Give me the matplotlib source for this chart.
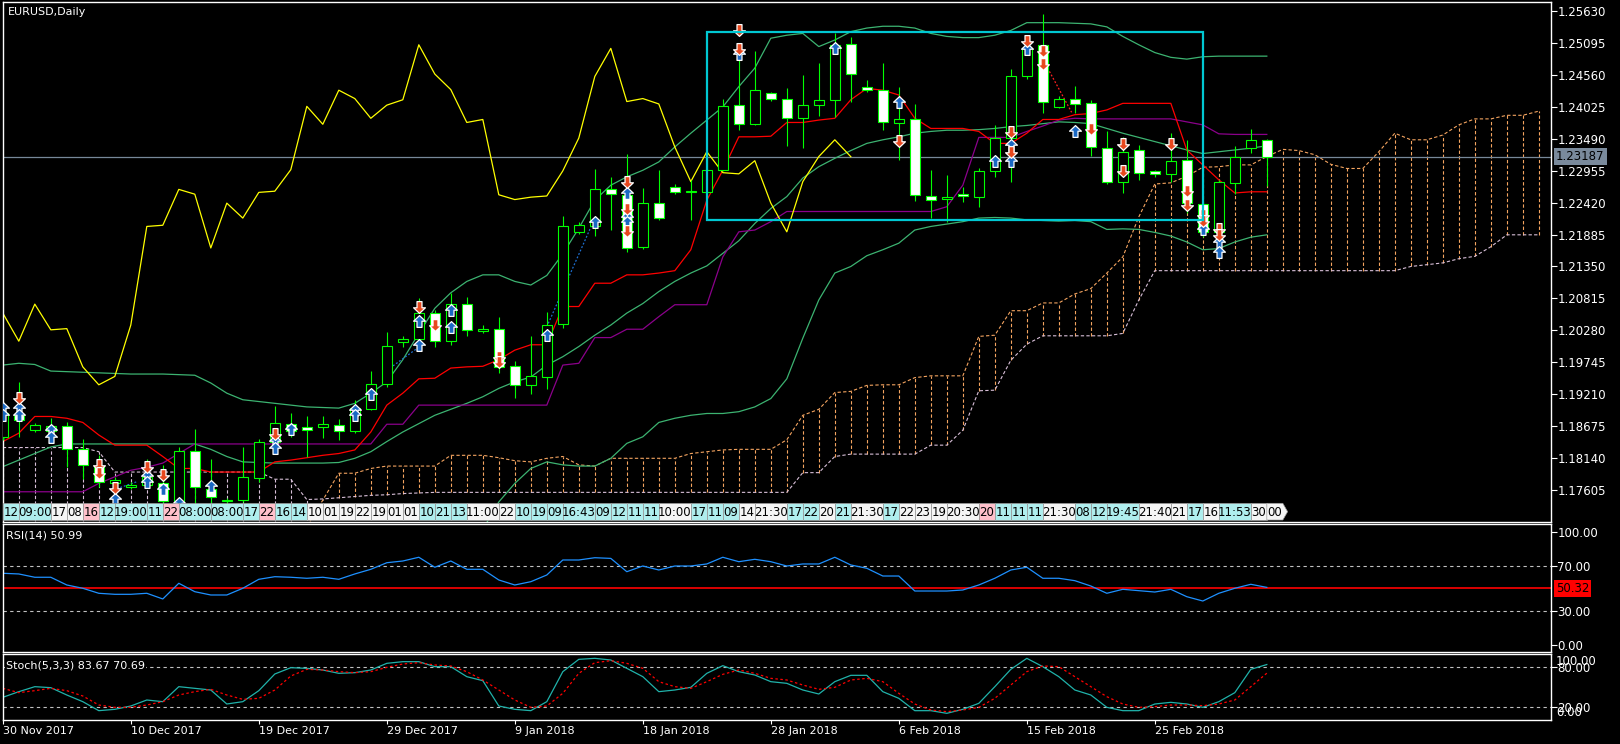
import matplotlib
matplotlib.use("Agg")
import matplotlib.pyplot as plt
import matplotlib.transforms as mtransforms
from matplotlib.patches import Rectangle, Polygon
from matplotlib.path import Path

W, H = 1620, 744

# daily EURUSD bars, index 0 = 30 Nov 2017
opens = [1.1850, 1.1886, 1.1861, 1.1860, 1.1868, 1.1829, 1.1800, 1.1773, 1.1766, 1.1769,
         1.1772, 1.1742, 1.1826, 1.1762, 1.1742, 1.1745, 1.1781, 1.1842, 1.1871, 1.1866,
         1.1867, 1.1870, 1.1859, 1.1896, 1.1938, 1.2009, 1.2013, 1.2057, 1.2011, 1.2072,
         1.2027, 1.2031, 1.1968, 1.1936, 1.1950, 1.2039, 1.2193, 1.2202, 1.2265, 1.2255,
         1.2168, 1.2241, 1.2268, 1.2259, 1.2260, 1.2296, 1.2405, 1.2373, 1.2425, 1.2416,
         1.2383, 1.2405, 1.2414, 1.2507, 1.2435, 1.2431, 1.2375, 1.2381, 1.2253, 1.2248,
         1.2256, 1.2252, 1.2294, 1.2350, 1.2453, 1.2505, 1.2402, 1.2415, 1.2408, 1.2334,
         1.2277, 1.2330, 1.2294, 1.2290, 1.2313, 1.2240, 1.2192, 1.2274, 1.2334, 1.2347]
highs = [1.1903, 1.1942, 1.1873, 1.1881, 1.1875, 1.1847, 1.1820, 1.1782, 1.1774, 1.1812,
         1.1803, 1.1833, 1.1863, 1.1812, 1.1748, 1.1833, 1.1847, 1.1902, 1.1889, 1.1885,
         1.1885, 1.1879, 1.1912, 1.1960, 1.2026, 1.2019, 1.2082, 1.2062, 1.2090, 1.2084,
         1.2037, 1.2051, 1.1977, 1.2019, 1.2059, 1.2219, 1.2210, 1.2298, 1.2285, 1.2324,
         1.2266, 1.2296, 1.2273, 1.2280, 1.2324, 1.2415, 1.2480, 1.2496, 1.2427, 1.2433,
         1.2455, 1.2476, 1.2525, 1.2519, 1.2447, 1.2475, 1.2435, 1.2407, 1.2296, 1.2288,
         1.2268, 1.2300, 1.2372, 1.2465, 1.2521, 1.2557, 1.2420, 1.2437, 1.2414, 1.2361,
         1.2352, 1.2338, 1.2296, 1.2358, 1.2347, 1.2245, 1.2280, 1.2337, 1.2365, 1.2348]
lows = [1.1845, 1.1850, 1.1858, 1.1839, 1.1800, 1.1780, 1.1766, 1.1761, 1.1762, 1.1764,
        1.1736, 1.1731, 1.1739, 1.1739, 1.1740, 1.1741, 1.1774, 1.1826, 1.1850, 1.1817,
        1.1848, 1.1845, 1.1857, 1.1895, 1.1934, 1.2001, 1.2001, 1.2001, 1.2004, 1.2019,
        1.2024, 1.1956, 1.1915, 1.1922, 1.1930, 1.2032, 1.2190, 1.2186, 1.2196, 1.2160,
        1.2165, 1.2213, 1.2256, 1.2213, 1.2258, 1.2294, 1.2364, 1.2371, 1.2412, 1.2337,
        1.2334, 1.2387, 1.2385, 1.2411, 1.2427, 1.2363, 1.2314, 1.2245, 1.2216, 1.2210,
        1.2243, 1.2235, 1.2284, 1.2277, 1.2448, 1.2392, 1.2401, 1.2392, 1.2320, 1.2273,
        1.2258, 1.2280, 1.2285, 1.2277, 1.2224, 1.2185, 1.2155, 1.2257, 1.2325, 1.2270]
closes = [1.1890, 1.1878, 1.1870, 1.1868, 1.1829, 1.1802, 1.1775, 1.1778, 1.1770, 1.1783,
          1.1742, 1.1826, 1.1766, 1.1749, 1.1745, 1.1782, 1.1841, 1.1873, 1.1859, 1.1861,
          1.1872, 1.1859, 1.1899, 1.1938, 1.2002, 1.2013, 1.2057, 1.2010, 1.2072, 1.2029,
          1.2031, 1.1967, 1.1937, 1.1951, 1.2037, 1.2202, 1.2204, 1.2264, 1.2256, 1.2166,
          1.2241, 1.2216, 1.2259, 1.2261, 1.2297, 1.2403, 1.2373, 1.2430, 1.2416, 1.2383,
          1.2405, 1.2414, 1.2506, 1.2457, 1.2431, 1.2376, 1.2381, 1.2255, 1.2247, 1.2251,
          1.2253, 1.2295, 1.2350, 1.2453, 1.2500, 1.2411, 1.2416, 1.2407, 1.2335, 1.2277,
          1.2327, 1.2292, 1.2290, 1.2312, 1.2241, 1.2193, 1.2277, 1.2319, 1.2347, 1.23187]

# Bollinger bands (lower band only visible from bar 30 on)
bb_upper = [1.1970, 1.1973, 1.1971, 1.1960, 1.1959, 1.1958, 1.1957, 1.1956, 1.1955, 1.1955,
            1.1955, 1.1954, 1.1953, 1.1940, 1.1923, 1.1912, 1.1909, 1.1906, 1.1903, 1.1900,
            1.1899, 1.1898, 1.1906, 1.1923, 1.1942, 1.1979, 1.2023, 1.2065, 1.2091, 1.2110,
            1.2121, 1.2121, 1.2110, 1.2104, 1.2120, 1.2156, 1.2199, 1.2246, 1.2271, 1.2285,
            1.2296, 1.2310, 1.2335, 1.2358, 1.2380, 1.2402, 1.2436, 1.2467, 1.2517, 1.2522,
            1.2525, 1.2503, 1.2514, 1.2528, 1.2534, 1.2537, 1.2537, 1.2534, 1.2525, 1.2520,
            1.2518, 1.2518, 1.2522, 1.2530, 1.2543, 1.2543, 1.2543, 1.2542, 1.2541, 1.2536,
            1.2520, 1.2506, 1.2493, 1.2485, 1.2482, 1.2486, 1.2487, 1.2487, 1.2487, 1.2487]
bb_middle = [1.1800, 1.1811, 1.1822, 1.1833, 1.1838, 1.1838, 1.1838, 1.1838, 1.1838, 1.1838,
             1.1838, 1.1838, 1.1838, 1.1829, 1.1817, 1.1808, 1.1807, 1.1806, 1.1806, 1.1806,
             1.1806, 1.1807, 1.1814, 1.1825, 1.1842, 1.1858, 1.1872, 1.1886, 1.1896, 1.1906,
             1.1917, 1.1931, 1.1942, 1.1950, 1.1970, 1.1984, 1.2001, 1.2020, 1.2037, 1.2057,
             1.2073, 1.2093, 1.2110, 1.2124, 1.2136, 1.2157, 1.2178, 1.2207, 1.2232, 1.2252,
             1.2283, 1.2302, 1.2316, 1.2329, 1.2341, 1.2347, 1.2352, 1.2358, 1.2361, 1.2363,
             1.2363, 1.2364, 1.2366, 1.2369, 1.2371, 1.2374, 1.2377, 1.2376, 1.2374, 1.2366,
             1.2358, 1.2351, 1.2344, 1.2337, 1.2330, 1.2324, 1.2327, 1.2330, 1.2333, 1.2337]
bb_lower_start = 30
bb_lower = [1.1695, 1.1741, 1.1772, 1.1797, 1.1808, 1.1803, 1.1801, 1.1801, 1.1814, 1.1839,
            1.1850, 1.1874, 1.1881, 1.1886, 1.1889, 1.1889, 1.1892, 1.1900, 1.1914, 1.1947,
            1.2015, 1.2079, 1.2124, 1.2135, 1.2153, 1.2163, 1.2174, 1.2196, 1.2202, 1.2206,
            1.2210, 1.2216, 1.2217, 1.2216, 1.2213, 1.2212, 1.2211, 1.2212, 1.2210, 1.2197,
            1.2198, 1.2197, 1.2192, 1.2186, 1.2176, 1.2163, 1.2165, 1.2176, 1.2184, 1.2188]

# Ichimoku lines
tenkan = [1.1842, 1.1856, 1.1884, 1.1884, 1.1881, 1.1874, 1.1853, 1.1836, 1.1836, 1.1836,
          1.1817, 1.1797, 1.1797, 1.1791, 1.1791, 1.1791, 1.1791, 1.1808, 1.1811, 1.1815,
          1.1819, 1.1822, 1.1828, 1.1858, 1.1903, 1.1923, 1.1947, 1.1948, 1.1965, 1.1967,
          1.1968, 1.1979, 1.1995, 1.2004, 1.2004, 1.2068, 1.2068, 1.2107, 1.2107, 1.2121,
          1.2121, 1.2124, 1.2128, 1.2163, 1.2246, 1.2296, 1.2352, 1.2352, 1.2353, 1.2376,
          1.2376, 1.2380, 1.2383, 1.2414, 1.2433, 1.2430, 1.2422, 1.2383, 1.2366, 1.2366,
          1.2366, 1.2361, 1.2341, 1.2341, 1.2358, 1.2381, 1.2381, 1.2389, 1.2391, 1.2397,
          1.2408, 1.2408, 1.2408, 1.2408, 1.2330, 1.2305, 1.2280, 1.2258, 1.2260, 1.2260]
kijun = [1.1758, 1.1758, 1.1758, 1.1758, 1.1758, 1.1758, 1.1772, 1.1783, 1.1794, 1.1799,
         1.1806, 1.1822, 1.1838, 1.1838, 1.1838, 1.1838, 1.1838, 1.1838, 1.1838, 1.1838,
         1.1838, 1.1838, 1.1838, 1.1838, 1.1871, 1.1871, 1.1903, 1.1903, 1.1903, 1.1903,
         1.1903, 1.1903, 1.1903, 1.1903, 1.1903, 1.1970, 1.1973, 1.2016, 1.2016, 1.2030,
         1.2030, 1.2051, 1.2071, 1.2071, 1.2071, 1.2151, 1.2193, 1.2196, 1.2210, 1.2227,
         1.2227, 1.2227, 1.2227, 1.2227, 1.2227, 1.2227, 1.2227, 1.2227, 1.2227, 1.2235,
         1.2271, 1.2351, 1.2351, 1.2351, 1.2361, 1.2370, 1.2380, 1.2383, 1.2382, 1.2382,
         1.2382, 1.2382, 1.2382, 1.2382, 1.2377, 1.2372, 1.2357, 1.2356, 1.2356, 1.2356]
# cloud runs 26 bars past the last candle (clipped at the right edge)
senkou_a = [1.1690, 1.1690, 1.1690, 1.1690, 1.1690, 1.1690, 1.1690, 1.1690, 1.1690, 1.1690,
            1.1690, 1.1690, 1.1690, 1.1690, 1.1690, 1.1690, 1.1690, 1.1690, 1.1690, 1.1700,
            1.1744, 1.1789, 1.1789, 1.1797, 1.1801, 1.1801, 1.1801, 1.1801, 1.1819, 1.1819,
            1.1819, 1.1815, 1.1810, 1.1808, 1.1814, 1.1817, 1.1803, 1.1801, 1.1814, 1.1814,
            1.1814, 1.1814, 1.1814, 1.1822, 1.1825, 1.1828, 1.1829, 1.1829, 1.1829, 1.1845,
            1.1886, 1.1896, 1.1924, 1.1926, 1.1936, 1.1937, 1.1937, 1.1949, 1.1952, 1.1952,
            1.1952, 1.2018, 1.2020, 1.2061, 1.2061, 1.2074, 1.2074, 1.2089, 1.2098, 1.2124,
            1.2151, 1.2218, 1.2273, 1.2275, 1.2286, 1.2301, 1.2302, 1.2305, 1.2305, 1.2319,
            1.2331, 1.2329, 1.2322, 1.2306, 1.2299, 1.2299, 1.2327, 1.2358, 1.2347, 1.2347,
            1.2355, 1.2372, 1.2382, 1.2382, 1.2388, 1.2388, 1.2395]
senkou_b = [1.1832, 1.1832, 1.1832, 1.1832, 1.1832, 1.1832, 1.1825, 1.1791, 1.1791, 1.1791,
            1.1791, 1.1791, 1.1791, 1.1791, 1.1791, 1.1791, 1.1791, 1.1779, 1.1779, 1.1745,
            1.1746, 1.1748, 1.1750, 1.1752, 1.1753, 1.1755, 1.1756, 1.1757, 1.1757, 1.1757,
            1.1757, 1.1757, 1.1757, 1.1757, 1.1757, 1.1757, 1.1757, 1.1757, 1.1757, 1.1757,
            1.1757, 1.1757, 1.1757, 1.1757, 1.1757, 1.1757, 1.1757, 1.1757, 1.1757, 1.1757,
            1.1790, 1.1790, 1.1817, 1.1821, 1.1821, 1.1821, 1.1821, 1.1821, 1.1836, 1.1836,
            1.1861, 1.1927, 1.1928, 1.1978, 1.2005, 1.2019, 1.2019, 1.2019, 1.2019, 1.2019,
            1.2023, 1.2079, 1.2128, 1.2128, 1.2128, 1.2128, 1.2128, 1.2128, 1.2128, 1.2128,
            1.2128, 1.2128, 1.2128, 1.2128, 1.2128, 1.2128, 1.2128, 1.2128, 1.2135, 1.2138,
            1.2141, 1.2148, 1.2152, 1.2168, 1.2188, 1.2188, 1.2188]
chikou_shift = 26

# signal arrows (bar, price)
up_arrow_bars = [0, 0, 1, 1, 3, 3, 7, 9, 9, 10, 11, 13, 17, 17, 18, 22, 22, 23, 26, 26, 28, 28,
                 34, 37, 39, 39, 39, 46, 52, 56, 62, 63, 63, 64, 67, 75, 76, 76]
up_arrow_prices = [1.1898, 1.1886, 1.1898, 1.1886, 1.1861, 1.1849, 1.1746, 1.1784, 1.1774, 1.1762,
                   1.1739, 1.1767, 1.1843, 1.1831, 1.1863, 1.1894, 1.1886, 1.1921, 1.2044, 1.2004,
                   1.2062, 1.2034, 1.2020, 1.2209, 1.2258, 1.2218, 1.2209, 1.2490, 1.2501, 1.2410,
                   1.2312, 1.2338, 1.2312, 1.2499, 1.2362, 1.2198, 1.2176, 1.2159]
down_arrow_bars = [1, 6, 6, 7, 9, 10, 17, 26, 27, 31, 31, 39, 39, 39, 46, 46, 56, 63, 63, 64,
                   65, 65, 68, 70, 70, 73, 74, 74, 75, 75, 76, 76]
down_arrow_prices = [1.1915, 1.1803, 1.1789, 1.1764, 1.1799, 1.1786, 1.1855, 1.2067, 1.2037, 1.1983,
                     1.1975, 1.2276, 1.2231, 1.2194, 1.2531, 1.2499, 1.2345, 1.2360, 1.2327, 1.2512,
                     1.2496, 1.2474, 1.2365, 1.2340, 1.2295, 1.2340, 1.2261, 1.2238, 1.2221, 1.2211,
                     1.2198, 1.2188]

# box drawn on the chart
box_bars = [44, 75]
box_prices = [1.2213, 1.2527]
bid_price = 1.23187

price_ticks = ["1.17605", "1.18140", "1.18675", "1.19210", "1.19745", "1.20280", "1.20815", "1.21350",
               "1.21885", "1.22420", "1.22955", "1.23490", "1.24025", "1.24560", "1.25095", "1.25630"]

# time labels strip at the bottom of the price window
strip_labels = ["12", "09:00", "17", "08", "16", "12", "19:00", "11", "22", "08:00", "08:00", "17",
                "22", "16", "14", "10", "01", "19", "22", "19", "01", "01", "10", "21", "13", "11:00",
                "22", "10", "19", "09", "16:43", "09", "12", "11", "11", "10:00", "17", "11", "09",
                "14", "21:30", "17", "22", "20", "21", "21:30", "17", "22", "23", "19", "20:30", "20",
                "11", "11", "11", "21:30", "08", "12", "19:45", "21:40", "21", "17", "16", "11:53",
                "30", "00"]
strip_kinds = ["c", "c", "w", "w", "p", "c", "c", "c", "p", "c", "c", "c",
               "p", "c", "c", "w", "w", "w", "w", "w", "w", "w", "c", "c", "c", "w",
               "w", "c", "c", "c", "c", "c", "c", "c", "c", "w", "c", "c", "c",
               "w", "w", "c", "c", "w", "c", "w", "c", "w", "w", "w", "w", "p",
               "c", "c", "c", "w", "c", "c", "c", "w", "w", "c", "w", "c",
               "w", "w"]

rsi = [63.4, 62.8, 59.9, 59.9, 53.1, 50.2, 45.8, 44.9, 44.9, 45.8,
       40.8, 54.6, 47.2, 44.3, 44.3, 50.2, 58.1, 60.4, 59.9, 59.0,
       59.9, 58.1, 62.8, 66.9, 72.7, 74.2, 77.5, 68.7, 74.2, 66.9,
       66.9, 57.5, 53.1, 56.0, 61.9, 75.1, 75.1, 77.1, 76.5, 64.8,
       69.8, 66.3, 69.8, 69.8, 71.6, 77.5, 73.6, 75.7, 73.6, 69.8,
       71.6, 71.6, 77.5, 70.7, 67.8, 61.0, 61.0, 47.8, 47.8, 47.8,
       48.7, 53.1, 59.0, 66.3, 68.7, 59.0, 59.0, 56.9, 52.2, 45.8,
       49.3, 48.1, 46.9, 49.3, 42.8, 39.0, 45.8, 50.2, 53.7, 51.0]
rsi_hline = 50.32

stoch_main = [34.5, 43.0, 50.5, 49.0, 38.0, 28.0, 14.5, 16.5, 21.5, 30.5,
              28.0, 50.5, 48.0, 45.5, 24.5, 28.0, 44.5, 69.5, 79.0, 78.0,
              75.5, 70.5, 71.5, 75.5, 85.5, 88.0, 88.0, 80.5, 80.5, 65.5,
              59.5, 21.5, 16.5, 14.5, 28.0, 73.0, 91.5, 93.0, 90.5, 78.0,
              65.5, 43.0, 45.5, 49.5, 70.5, 82.0, 73.0, 68.0, 58.0, 55.5,
              45.5, 39.5, 58.0, 67.5, 67.5, 43.0, 33.0, 14.5, 14.5, 10.5,
              16.5, 25.5, 50.5, 76.5, 93.0, 80.5, 65.5, 45.5, 38.0, 19.5,
              14.5, 14.5, 24.5, 27.0, 24.5, 19.5, 28.0, 41.5, 76.5, 83.7]
stoch_signal = [48.0, 41.5, 44.5, 48.0, 44.5, 36.5, 23.0, 19.5, 19.5, 23.0,
                28.0, 38.0, 43.0, 46.5, 38.0, 31.5, 33.0, 45.5, 66.5, 76.5,
                75.5, 73.0, 71.5, 73.0, 79.5, 84.5, 86.5, 83.0, 81.5, 73.0,
                60.5, 45.5, 30.5, 19.5, 21.5, 40.5, 70.5, 86.5, 89.5, 85.5,
                78.0, 58.0, 50.5, 48.0, 58.0, 69.0, 75.5, 70.5, 63.0, 60.5,
                53.0, 46.5, 49.5, 60.5, 63.0, 58.0, 40.5, 24.5, 15.5, 13.0,
                15.5, 19.5, 33.0, 53.0, 73.0, 81.5, 80.5, 65.5, 50.5, 35.5,
                24.5, 19.5, 20.5, 23.0, 23.0, 22.0, 24.5, 30.5, 50.5, 70.7]

date_bars = [0, 8, 16, 24, 32, 40, 48, 56, 64, 72]
date_labels = ["30 Nov 2017", "10 Dec 2017", "19 Dec 2017", "29 Dec 2017", "9 Jan 2018",
               "18 Jan 2018", "28 Jan 2018", "6 Feb 2018", "15 Feb 2018", "25 Feb 2018"]

# ---------------------------------------------------------------
BULL_LINE = "#00ff00"
DASH = (0, (3, 2))
XMAX = 96.73

fig = plt.figure(figsize=(W / 100, H / 100), dpi=100, facecolor="black")


def px_axes(x0, y0, x1, y1):
    a = fig.add_axes([x0 / W, 1 - y1 / H, (x1 - x0) / W, (y1 - y0) / H])
    a.set_facecolor("black")
    for s in a.spines.values():
        s.set_color("white")
        s.set_linewidth(1.0)
    a.set_xlim(0, XMAX)
    a.yaxis.tick_right()
    a.tick_params(axis="y", colors="white", length=4, width=0.8, labelsize=8.5, pad=1)
    return a


ax = px_axes(2.8, 2.3, 1550.5, 522.3)
ax_rsi = px_axes(2.8, 524.3, 1550.5, 651.7)
ax_st = px_axes(2.8, 654.3, 1550.5, 720.0)

# ---------- price window ----------
ax.set_ylim(1.17069, 1.25771)
ax.set_xticks([])
ax.set_yticks([float(t) for t in price_ticks])
ax.set_yticklabels(price_ticks)

# kumo hatching and the two spans
cloud_x = list(range(len(senkou_a)))
lo = [min(a, b) for a, b in zip(senkou_a, senkou_b)]
hi = [max(a, b) for a, b in zip(senkou_a, senkou_b)]
cols = ["#f4a460" if a >= b else "#d8bfd8" for a, b in zip(senkou_a, senkou_b)]
ax.vlines(cloud_x, lo, hi, colors=cols, linestyles=DASH, lw=0.8, zorder=1)
ax.plot(cloud_x, senkou_a, color="#f4a460", ls=DASH, lw=0.8, zorder=1)
ax.plot(cloud_x, senkou_b, color="#d8bfd8", ls=DASH, lw=0.8, zorder=1)

ax.axhline(bid_price, color="#778899", lw=0.9, zorder=1.5)

ax.plot(range(len(bb_upper)), bb_upper, color="#3cb371", lw=0.9, zorder=2)
ax.plot(range(len(bb_middle)), bb_middle, color="#3cb371", lw=0.9, zorder=2)
ax.plot(range(bb_lower_start, bb_lower_start + len(bb_lower)), bb_lower, color="#3cb371", lw=0.9, zorder=2)
ax.plot(range(len(kijun)), kijun, color="#8b008b", lw=0.9, zorder=2)
ax.plot(range(len(tenkan)), tenkan, color="#ff0000", lw=0.9, zorder=2)
chikou = closes[chikou_shift:]
ax.plot(range(len(chikou)), chikou, color="#ffff00", lw=0.9, zorder=2)

# dotted helper lines linking signals
ax.plot([6.9, 8.4], [1.1761, 1.1775], color="#1e6fd0", ls=(0, (1.5, 1.5)), lw=0.9, zorder=2)
ax.plot([24.2, 26.0], [1.1965, 1.2000], color="#1e6fd0", ls=(0, (1.5, 1.5)), lw=0.9, zorder=2)
ax.plot([34.0, 37.0], [1.2034, 1.2216], color="#1e6fd0", ls=(0, (1.5, 1.5)), lw=0.9, zorder=2)
ax.plot([65.3, 66.8], [1.2467, 1.2393], color="#ff2020", ls=(0, (1.5, 1.5)), lw=0.9, zorder=2)

# candles
bars_x = list(range(len(opens)))
ax.vlines(bars_x, lows, highs, colors=BULL_LINE, lw=0.8, zorder=3)
for i, (o, c) in enumerate(zip(opens, closes)):
    bottom = min(o, c)
    height = max(abs(c - o), 0.00003)
    face = "black" if c >= o else "white"
    ax.add_patch(Rectangle((i - 0.31, bottom), 0.62, height, fc=face, ec=BULL_LINE,
                           lw=0.8, zorder=3.1))

# arrow markers
up_v = [(-1.0, 0.05), (0.0, 1.0), (1.0, 0.05), (0.42, 0.05), (0.42, -1.0),
        (-0.42, -1.0), (-0.42, 0.05), (-1.0, 0.05)]
codes = [Path.MOVETO] + [Path.LINETO] * 6 + [Path.CLOSEPOLY]
up_marker = Path(up_v, codes)
down_marker = Path([(x, -y) for x, y in up_v], codes)
ax.plot(up_arrow_bars, up_arrow_prices, ls="none", marker=up_marker, ms=8.5,
        mfc="#1a68c4", mec="white", mew=0.9, zorder=4)
ax.plot(down_arrow_bars, down_arrow_prices, ls="none", marker=down_marker, ms=8.5,
        mfc="#e8481e", mec="white", mew=0.9, zorder=4)

ax.add_patch(Rectangle((box_bars[0], box_prices[0]), box_bars[1] - box_bars[0],
                       box_prices[1] - box_prices[0], fill=False, ec="#00c8d2", lw=1.6, zorder=5))

ax.text(0.003, 0.982, "EURUSD,Daily", transform=ax.transAxes, color="white",
        fontsize=8, va="center", ha="left")

bid_trans = mtransforms.blended_transform_factory(ax.transAxes, ax.transData)
ax.text(1.0035, bid_price, "%.5f" % bid_price, transform=bid_trans, ha="left", va="center",
        fontsize=8.5, color="black", clip_on=False, zorder=6,
        bbox=dict(boxstyle="square,pad=0.18", fc="#7a8a9c", ec="none"))

# label strip
strip_colors = {"c": "#afeeee", "w": "#f5f5f5", "p": "#ffc0cb"}
strip_tr = mtransforms.blended_transform_factory(ax.transData, ax.transAxes)
y0, y1 = 0.0044, 0.0365
slot = 0
for k, (lab, kind) in enumerate(zip(strip_labels, strip_kinds)):
    n = 2 if len(lab) > 2 else 1
    if k == len(strip_labels) - 1:
        patch = Polygon([(slot, y0), (slot + n, y0), (slot + n + 0.3, (y0 + y1) / 2),
                         (slot + n, y1), (slot, y1)], closed=True, transform=strip_tr,
                        fc=strip_colors[kind], ec="#9a9a9a", lw=0.5, zorder=6)
    else:
        patch = Rectangle((slot, y0), n, y1 - y0, transform=strip_tr,
                          fc=strip_colors[kind], ec="#9a9a9a", lw=0.5, zorder=6)
    ax.add_patch(patch)
    t = ax.text(slot + n / 2, (y0 + y1) / 2 - 0.001, lab, transform=strip_tr, ha="center",
                va="center", fontsize=8.5, color="black", zorder=7)
    t.set_clip_path(patch)
    slot += n

# ---------- RSI ----------
ax_rsi.set_ylim(-5.6, 106.5)
ax_rsi.set_xticks([])
ax_rsi.set_yticks([0, 30, 70, 100])
ax_rsi.set_yticklabels(["0.00", "30.00", "70.00", "100.00"])
for lvl in (30, 70):
    ax_rsi.axhline(lvl, color="#c0c0c0", ls=(0, (3, 3)), lw=0.8)
ax_rsi.axhline(rsi_hline, color="red", lw=1.2)
ax_rsi.plot(range(len(rsi)), rsi, color="#1e90ff", lw=0.9)
ax_rsi.text(0.002, 0.916, "RSI(14) 50.99", transform=ax_rsi.transAxes, color="white",
            fontsize=8, va="center", ha="left")
rsi_trans = mtransforms.blended_transform_factory(ax_rsi.transAxes, ax_rsi.transData)
ax_rsi.text(1.0035, rsi_hline, "%.2f" % rsi_hline, transform=rsi_trans, ha="left", va="center",
            fontsize=8.5, color="black", clip_on=False, zorder=6,
            bbox=dict(boxstyle="square,pad=0.18", fc="red", ec="none"))

# ---------- Stochastic ----------
ax_st.set_ylim(0.5, 99.05)
ax_st.set_yticks([20, 80])
ax_st.set_yticklabels(["20.00", "80.00"])
for lvl in (20, 80):
    ax_st.axhline(lvl, color="#c0c0c0", ls=(0, (3, 3)), lw=0.8)
ax_st.plot(range(len(stoch_main)), stoch_main, color="#20b2aa", lw=0.9)
ax_st.plot(range(len(stoch_signal)), stoch_signal, color="#ff0000", ls=(0, (2, 2)), lw=0.9)
st_trans = mtransforms.blended_transform_factory(ax_st.transAxes, ax_st.transData)
ax_st.text(1.0035, 88.0, "100.00", transform=st_trans, ha="left", va="center",
           fontsize=8.5, color="white", clip_on=False)
ax_st.text(1.0035, 12.0, "0.00", transform=st_trans, ha="left", va="center",
           fontsize=8.5, color="white", clip_on=False)
ax_st.text(0.002, 0.826, "Stoch(5,3,3) 83.67 70.69", transform=ax_st.transAxes, color="white",
           fontsize=8, va="center", ha="left", zorder=5,
           bbox=dict(boxstyle="square,pad=0.1", fc="black", ec="none"))
ax_st.set_xticks(date_bars)
ax_st.set_xticklabels(date_labels, ha="left")
ax_st.tick_params(axis="x", colors="white", length=3, width=0.8, labelsize=8, pad=1.5)

fig.savefig("out.png", dpi=100, facecolor="black")
